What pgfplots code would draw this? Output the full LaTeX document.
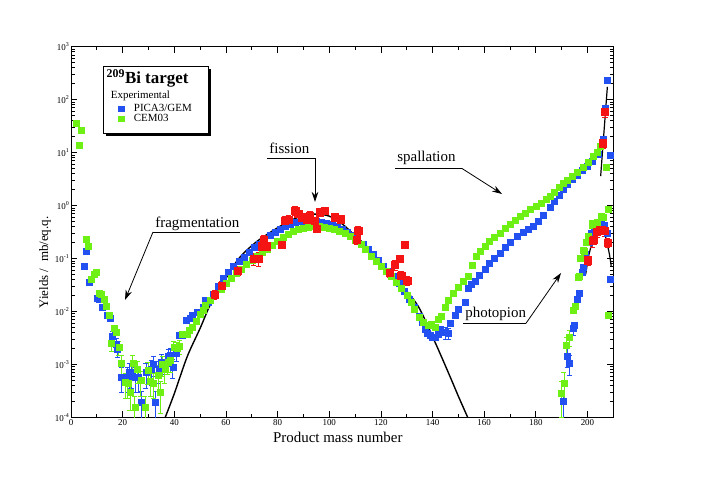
\documentclass[border=0pt]{standalone}
\usepackage{pgfplots}
\pgfplotsset{compat=1.18}
\usepackage{fontspec}
\setmainfont{Liberation Serif}
\usetikzlibrary{arrows.meta,shadows}
\definecolor{pblue}{RGB}{35,80,240}
\definecolor{cgreen}{RGB}{110,240,20}
\definecolor{exred}{RGB}{245,20,20}
\begin{document}
\begin{tikzpicture}[x=1bp,y=1bp]
\path (0,0) rectangle (708,501);
\begin{axis}[
  at={(71bp,83.7bp)}, anchor=south west,
  scale only axis, width=542.3bp, height=370.6bp,
  xmin=0, xmax=210, ymode=log, ymin=1e-4, ymax=1e3,
  xtick={0,20,...,200}, minor xtick={10,30,...,210},
  ytick={1e-4,1e-3,1e-2,1e-1,1,10,100,1000},
  yticklabels={10\textsuperscript{-4},10\textsuperscript{-3},10\textsuperscript{-2},10\textsuperscript{-1},10\textsuperscript{0},10\textsuperscript{1},10\textsuperscript{2},10\textsuperscript{3}},
  /pgf/number format/assume math mode=true,
  tick align=inside, major tick length=6bp, minor tick length=3.5bp,
  axis line style={line width=0.8bp}, every tick/.style={line width=0.7bp, black},
  tick label style={font=\fontsize{9}{10}\selectfont},
  xticklabel style={inner sep=2.5bp},
  yticklabel style={inner sep=1.5bp},
  xlabel={Product mass number}, ylabel={Yields /\ \ mb/eq.q.},
  xlabel style={at={(axis description cs:0.492,-0.0675)}, anchor=base, font=\fontsize{15}{18}\selectfont},
  ylabel style={at={(axis description cs:-0.048,0.4177)}, anchor=center, font=\fontsize{13}{16}\selectfont},
  legend cell align=left,
  legend style={draw=none, fill=none, at={(axis description cs:0.0869,0.8465)}, anchor=north west,
    inner sep=0pt, column sep=10bp, row sep=0pt, font=\fontsize{11}{12}\selectfont,
    nodes={inner sep=0pt, text height=7.5bp, text depth=2.5bp}},
  legend image code/.code={\fill[#1] (0bp,-2.6bp) rectangle (5.2bp,2.6bp);},
]
% legend box and titles
\draw[line width=0.8bp, fill=white, drop shadow={shadow xshift=3bp, shadow yshift=-3bp, opacity=1, fill=black}]
  (axis description cs:0.0596,0.7663) rectangle (axis description cs:0.2532,0.948);
\node[anchor=base west, font=\fontsize{17}{19}\selectfont\bfseries, inner sep=0pt] at (axis description cs:0.0655,0.9010) {\textsuperscript{209}Bi target};
\node[anchor=base west, font=\fontsize{11}{12}\selectfont, inner sep=0pt] at (axis description cs:0.0732,0.8589) {Experimental};

% PICA3/GEM
\addplot[only marks, mark=square*, mark size=3bp, color=pblue] coordinates {
(5,0.071)(6,0.135)(7,0.036)(10,0.018)(11,0.017)(12,0.012)(14,0.0085)(15,0.0073)
(42,0.0035)(43,0.0035)(44.5,0.0068)(46,0.0075)(47,0.0083)(49,0.0096)(51,0.012)(52,0.016)
(53,0.015)(55,0.021)(57,0.03)(59,0.042)(61,0.056)(63,0.07)(65,0.087)(67,0.105)(69,0.13)
(71,0.16)(73,0.19)(75,0.23)(77,0.27)(79,0.31)(81,0.35)(83,0.4)(85,0.45)(87,0.48)(89,0.5)
(91,0.51)(93,0.51)(95,0.5)(97,0.49)(99,0.47)(101,0.44)(103,0.4)(105,0.35)(107,0.31)(109,0.27)
(111,0.23)(113,0.19)(115,0.15)(117,0.12)(119,0.092)(121,0.073)(123,0.058)(125,0.046)
(127,0.034)(129,0.024)(131,0.017)(133,0.012)(135,0.0082)(136,0.0062)(137,0.0047)(138,0.0038)
(139,0.0035)(140,0.0033)(141,0.0033)(142,0.0037)(143,0.0047)(147,0.006)
(148.6,0.0083)(150,0.011)(152.5,0.015)(153.7,0.027)(155,0.032)(156.4,0.038)(158,0.048)
(160.2,0.063)(162,0.08)(164,0.1)(166.2,0.125)(168,0.16)(170,0.2)(172.6,0.26)(175,0.31)
(177,0.35)(179,0.40)(181,0.5)(183,0.65)(185.5,0.95)(187,1.2)(189,1.6)(190.5,2.0)(192,2.5)
(194,3.1)(196,3.8)(198,4.6)(200,5.6)(202,7)(204,9.5)(205.9,18)(206.8,70)(207.7,235)(208.8,8.9)
(194.9,0.0055)(196.1,0.017)(196.9,0.022)(197.8,0.054)(198.4,0.069)(199.2,0.12)(200.5,0.2)
(201.5,0.3)(202.7,0.38)(204,0.42)(205.3,0.45)(206.5,0.42)(207.5,0.30)(208.8,0.041)
};
\addlegendentry{PICA3/GEM}
\addplot[only marks, mark=square*, mark size=3bp, color=pblue, forget plot,
  error bars/.cd, y dir=both, y explicit relative,
  error bar style={line width=0.7bp, pblue}, error mark options={rotate=90, mark size=2.5bp, line width=0.7bp, pblue}] coordinates {
(16,0.0034) +- (0,0.25) (17.5,0.0024) +- (0,0.3) (17.9,0.0019) +- (0,0.3)
(19.6,0.00058) +- (0,0.5) (21.8,0.00058) +- (0,0.5) (22.5,0.0007) +- (0,0.5) (23.5,0.0007) +- (0,0.5)
(25,0.00058) +- (0,0.5) (26.2,0.00058) +- (0,0.5) (27.3,0.00019) +- (0,0.6) (29,0.0007) +- (0,0.5)
(31,0.0008) +- (0,0.5) (32,0.001) +- (0,0.4) (32.7,0.00019) +- (0,0.6) (34,0.0008) +- (0,0.45)
(35,0.0011) +- (0,0.4) (37.6,0.0014) +- (0,0.35) (38.5,0.0015) +- (0,0.35) (39.4,0.0009) +- (0,0.4)
(40.7,0.0016) +- (0,0.3) (145,0.004) +- (0,0.25) (146,0.0039) +- (0,0.25)
(190.5,0.0002) +- (0,0.6) (192.2,0.00145) +- (0,0.4) (193,0.00105) +- (0,0.4) (194.5,0.0048) +- (0,0.25)
};

% CEM03
\addplot[only marks, mark=square*, mark size=3bp, color=cgreen] coordinates {
(2,36)(3,14)(4,27)(5.7,0.23)(6.7,0.17)(7.7,0.041)(8.8,0.051)(9.8,0.056)(10.8,0.022)(11.8,0.021)
(12.9,0.017)(13.8,0.0126)(14.7,0.0083)(16.9,0.0048)(17.5,0.0041)
(43.2,0.0037)(44.9,0.0037)(45.7,0.0045)(47,0.005)(48.5,0.0065)(50,0.009)(51,0.0107)
(52,0.013)(54,0.016)(56,0.02)(58,0.026)(60,0.034)(62,0.042)(64,0.052)(66,0.063)(68,0.077)
(70,0.092)(72,0.11)(74,0.13)(76,0.15)(78,0.18)(80,0.21)(82,0.25)(84,0.29)(86,0.33)(88,0.36)
(90,0.38)(92,0.39)(94,0.4)(96,0.4)(98,0.39)(100,0.38)(102,0.36)(104,0.33)(106,0.3)(108,0.26)
(110,0.22)(112.4,0.19)(114,0.15)(116.2,0.11)(118,0.09)(120,0.072)(122,0.058)(124,0.047)
(126,0.035)(127.8,0.027)(130,0.02)(131.7,0.015)(133,0.011)(135,0.0079)(136.5,0.0062)
(138.2,0.0054)(139.5,0.0058)(140.9,0.0051)(142,0.0072)(143.5,0.0082)(145,0.012)
(146,0.016)(148,0.022)(149.8,0.029)(152,0.038)(153.7,0.047)(155.2,0.075)(156.8,0.11)
(158.5,0.14)(160.2,0.17)(162,0.21)(164,0.25)(166.2,0.30)(168,0.38)(170,0.45)(172,0.53)
(174,0.62)(176,0.72)(178,0.85)(180,0.98)(182,1.1)(184,1.3)(185.5,1.48)(187,1.8)(189,2.2)
(190.5,2.6)(192,3.0)(194,3.6)(196,4.3)(198.4,5.4)(200.3,6.5)(202.3,8.4)(203.7,10)(204.9,13)(207.2,5.4)
(194.3,0.0107)(195.1,0.0126)(196.5,0.045)(196.9,0.047)(197.1,0.1)(198.4,0.145)(198.7,0.14)
(199.5,0.2)(200.4,0.26)(201.7,0.46)(202,0.43)(203.8,0.49)(205.5,0.62)(205.9,0.61)(208.1,0.85)(208.1,0.0085)
};
\addlegendentry{CEM03}
\addplot[only marks, mark=square*, mark size=3bp, color=cgreen, forget plot,
  error bars/.cd, y dir=both, y explicit relative,
  error bar style={line width=0.7bp, cgreen}, error mark options={rotate=90, mark size=2.5bp, line width=0.7bp, cgreen}] coordinates {
(15.7,0.0025) +- (0,0.3) (18.5,0.0021) +- (0,0.3) (19.6,0.00107) +- (0,0.4) (21.1,0.00046) +- (0,0.5)
(22,0.00045) +- (0,0.5) (22.8,0.0003) +- (0,0.55) (23.9,0.00107) +- (0,0.4) (24.7,0.000155) +- (0,0.6)
(25.7,0.0008) +- (0,0.45) (27,0.0005) +- (0,0.5) (28.6,0.000155) +- (0,0.6) (29.8,0.00076) +- (0,0.45)
(30.8,0.00049) +- (0,0.5) (32,0.00045) +- (0,0.5) (33.7,0.00063) +- (0,0.5) (34.6,0.0003) +- (0,0.6)
(35.5,0.001) +- (0,0.4) (36.3,0.0008) +- (0,0.45) (37.5,0.0011) +- (0,0.4) (38.5,0.0012) +- (0,0.4)
(39.8,0.0021) +- (0,0.3) (41,0.002) +- (0,0.3) (42,0.0022) +- (0,0.3)
(190,0.00029) +- (0,0.65) (190.9,0.00045) +- (0,0.6) (191.7,0.0023) +- (0,0.4) (193,0.0033) +- (0,0.35)
};

% model curves
\addplot[black, line width=1.4bp, smooth, forget plot] coordinates {
(36.5,0.0001)(40,0.00028)(45,0.0014)(50,0.0048)(54.4,0.015)(60,0.042)(65,0.1)(72,0.21)
(81.5,0.42)(88,0.6)(94.6,0.69)(100,0.63)(105,0.45)(110,0.27)(115,0.16)(120,0.079)(127,0.035)
(134.4,0.0126)(141,0.0026)(146.7,0.0006)(150,0.00025)(153.6,0.0001)
};
\addplot[black, line width=1.2bp, forget plot] coordinates {(205.1,3.6)(207.7,175)};
\addplot[black, line width=1.2bp, smooth, forget plot] coordinates {
(199.3,0.05)(200.7,0.126)(202.5,0.25)(204.2,0.37)(205.5,0.4)(206.5,0.33)(207.5,0.2)(208.5,0.12)(209.2,0.07)
};

% Experimental
\addplot[only marks, mark=square*, mark size=3.6bp, color=exred, forget plot,
  error bars/.cd, y dir=both, y explicit relative,
  error bar style={line width=0.7bp, exred}, error mark options={rotate=90, mark size=2.8bp, line width=0.7bp, exred}] coordinates {
(55.6,0.021) +- (0,0.2) (58.4,0.031) +- (0,0.2) (64.6,0.059) +- (0,0.2) (70.7,0.098) +- (0,0.25)
(72.6,0.1) +- (0,0.3) (73.9,0.17) +- (0,0.25) (74.5,0.23) +- (0,0.2) (75.8,0.17) +- (0,0.2)
(81.6,0.18) +- (0,0.15) (82.6,0.52) +- (0,0.2) (84.2,0.54) +- (0,0.2) (86.8,0.81) +- (0,0.2)
(88,0.69) +- (0,0.2) (89.3,0.6) +- (0,0.2) (91.2,0.55) +- (0,0.2) (92.5,0.65) +- (0,0.2)
(94.5,0.52) +- (0,0.15) (95.1,0.36) +- (0,0.15) (96.4,0.75) +- (0,0.15) (98.3,0.81) +- (0,0.15)
(102.2,0.6) +- (0,0.1) (104.5,0.55) +- (0,0.1) (110.5,0.23) +- (0,0.2) (111.2,0.34) +- (0,0.2)
(123.4,0.054) +- (0,0.2) (125.4,0.076) +- (0,0.2) (127.3,0.1) +- (0,0.15) (127.9,0.048) +- (0,0.2)
(129.2,0.18) +- (0,0.15) (130.2,0.038) +- (0,0.2)
(205.9,15) +- (0,0.2) (206.8,59) +- (0,0.2)
(200.1,0.093) +- (0,0.2) (202,0.22) +- (0,0.25) (202.3,0.23) +- (0,0.2) (203.6,0.32) +- (0,0.2)
(204.9,0.35) +- (0,0.2) (205.5,0.35) +- (0,0.2) (206.8,0.33) +- (0,0.2) (207.7,0.2) +- (0,0.2)
};
\end{axis}
% annotations (picture coordinates, 1 unit = 1 px of the reference)
\begin{scope}[font=\fontsize{15}{18}\selectfont, line width=0.8bp]
\node[anchor=base west, inner sep=0pt] at (155,273) {fragmentation};
\draw (240,269) -- (153,269);
\draw[-{Stealth[length=10bp,width=6.5bp]}] (153,269) -- (125,201);
\node[anchor=base west, inner sep=0pt] at (269,347) {fission};
\draw (267,342.7) -- (315,342.7);
\draw[-{Stealth[length=10bp,width=6.5bp]}] (315,342.7) -- (315,299);
\node[anchor=base west, inner sep=0pt] at (397,339) {spallation};
\draw (395,332.7) -- (461.7,332.7);
\draw[-{Stealth[length=10bp,width=6.5bp]}] (461.7,332.7) -- (502,307);
\node[anchor=base west, inner sep=0pt] at (465,183) {photopion};
\draw (463,177.7) -- (526,177.7);
\draw[-{Stealth[length=10bp,width=6.5bp]}] (526,177.7) -- (561,228);
\end{scope}
\end{tikzpicture}
\end{document}
